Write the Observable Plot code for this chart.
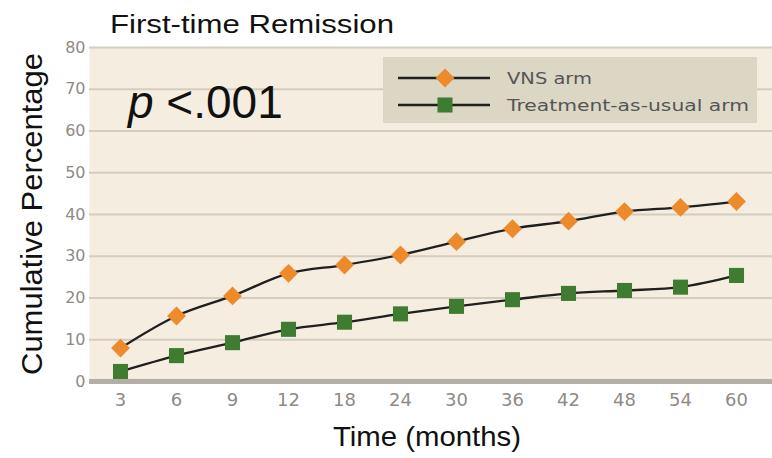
<!DOCTYPE html>
<html><head><meta charset="utf-8">
<script src="https://cdn.jsdelivr.net/npm/d3@7"></script>
<script src="https://cdn.jsdelivr.net/npm/@observablehq/plot@0.6"></script>
<style>
html,body{margin:0;padding:0;background:#fff;}
#chart{position:relative;width:772px;height:458px;}
</style></head><body><div id="chart"></div>
<script>
const months = ["3","6","9","12","18","24","30","36","42","48","54","60"];
const vnsArm = [8.0,15.7,20.5,25.9,27.9,30.3,33.5,36.6,38.4,40.7,41.7,43.1];
const tauArm = [2.4,6.2,9.3,12.5,14.2,16.2,18.0,19.6,21.1,21.8,22.6,25.4];
const yTicks = [0,10,20,30,40,50,60,70,80];
const seriesNames = ["VNS arm","Treatment-as-usual arm"];
const seriesColors = ["#ec8a2c","#3f7b31"];
const seriesSymbols = ["diamond2","square"];
const titleText = "First-time Remission";
const pItalic = "p";
const pRest = " <.001";
const xLabel = "Time (months)";
const yLabel = "Cumulative Percentage";

const rows = [];
months.forEach((m, i) => {
  rows.push({month: m, value: vnsArm[i], series: seriesNames[0]});
  rows.push({month: m, value: tauArm[i], series: seriesNames[1]});
});

const plot = Plot.plot({
  width: 772, height: 458,
  marginTop: 47, marginBottom: 77, marginLeft: 89, marginRight: 0,
  style: {background: "transparent", fontFamily: "DejaVu Sans, sans-serif", overflow: "visible"},
  x: {type: "point", domain: months, padding: 0.5, insetRight: 6, label: null},
  y: {domain: [0, 80], label: null},
  color: {domain: seriesNames, range: seriesColors},
  symbol: {domain: seriesNames, range: seriesSymbols},
  marks: [
    Plot.frame({fill: "#f5ede0", stroke: "none"}),
    Plot.ruleY(yTicks.filter(d => d > 0), {stroke: "#d3ccc1", strokeWidth: 1.8}),
    Plot.ruleY([0], {stroke: "#b3aea6", strokeWidth: 5}),
    Plot.axisY(yTicks, {tickSize: 0, tickPadding: 4, fontSize: 16, color: "#8f8a85", label: null}),
    Plot.axisX({tickSize: 0, tickPadding: 12, fontSize: 18, color: "#8f8a85", label: null}),
    Plot.line(rows, {x: "month", y: "value", z: "series", stroke: "#1f1f1f", strokeWidth: 2.3, curve: "catmull-rom"}),
    Plot.dot(rows, {x: "month", y: "value", symbol: "series", fill: "series", r: 8.5, stroke: "none"})
  ]
});
document.getElementById("chart").appendChild(plot);

const svg = d3.select(plot);
const sans = "Liberation Sans, Arial, Helvetica, sans-serif";

svg.append("text").attr("x", 110).attr("y", 33).attr("text-anchor", "start")
  .attr("font-family", sans).attr("font-size", 26).attr("fill", "#111")
  .attr("textLength", 284).attr("lengthAdjust", "spacingAndGlyphs").text(titleText);

const pt = svg.append("text").attr("x", 128).attr("y", 118).attr("text-anchor", "start")
  .attr("font-family", sans).attr("font-size", 46).attr("fill", "#111");
pt.append("tspan").attr("font-style", "italic").text(pItalic);
pt.append("tspan").text(pRest);

svg.append("text").attr("transform", "translate(42,214) rotate(-90)")
  .attr("text-anchor", "middle").attr("font-family", sans).attr("font-size", 30).attr("fill", "#111")
  .attr("textLength", 322).attr("lengthAdjust", "spacingAndGlyphs").text(yLabel);

svg.append("text").attr("x", 427).attr("y", 446)
  .attr("text-anchor", "middle").attr("font-family", sans).attr("font-size", 28).attr("fill", "#111")
  .attr("textLength", 188).attr("lengthAdjust", "spacingAndGlyphs").text(xLabel);

// legend
const lg = svg.append("g").attr("text-anchor", "start");
lg.append("rect").attr("x", 383).attr("y", 57).attr("width", 374).attr("height", 66).attr("fill", "#dcd7c5");
const legendRows = [78, 105];
const legendWidths = [85, 242];
seriesNames.forEach((name, i) => {
  const yy = legendRows[i];
  lg.append("line").attr("x1", 398).attr("x2", 490).attr("y1", yy).attr("y2", yy)
    .attr("stroke", "#1f1f1f").attr("stroke-width", 2.3);
  const sym = i === 0 ? d3.symbolDiamond2 : d3.symbolSquare;
  lg.append("path").attr("transform", `translate(445,${yy})`)
    .attr("d", d3.symbol(sym, Math.PI * 8.5 * 8.5)()).attr("fill", seriesColors[i]);
  lg.append("text").attr("x", 507).attr("y", yy + 5.5).attr("text-anchor", "start")
    .attr("font-family", "DejaVu Sans, sans-serif").attr("font-size", 15).attr("fill", "#555")
    .attr("textLength", legendWidths[i]).attr("lengthAdjust", "spacingAndGlyphs").text(name);
});
</script></body></html>
